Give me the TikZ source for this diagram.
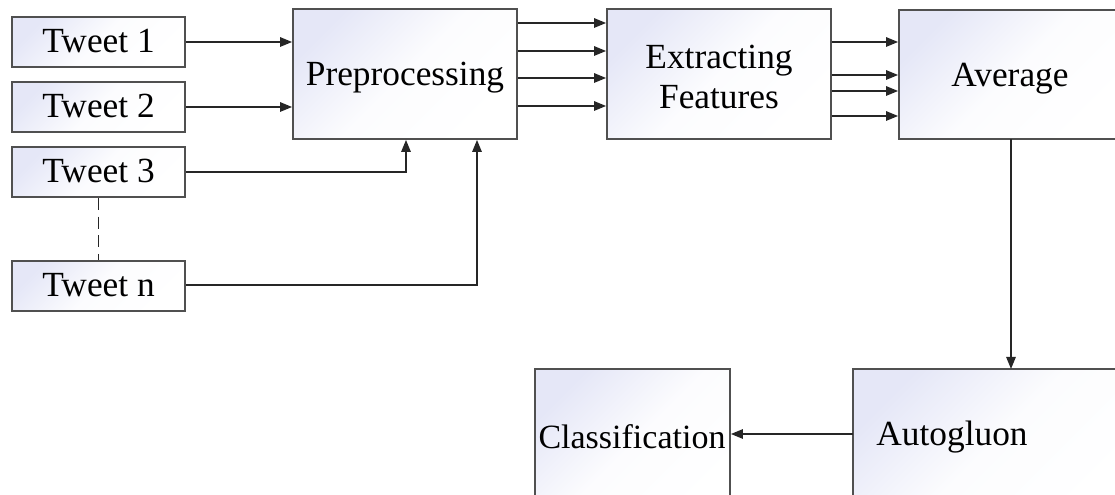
\documentclass[tikz,border=0pt]{standalone}
\usepackage{fontspec}
\setmainfont{Liberation Serif}
\usetikzlibrary{arrows.meta}
\definecolor{boxtop}{RGB}{229,231,247}
\definecolor{boxline}{RGB}{80,80,80}
\def\PX{0.75pt}
\begin{document}
\begin{tikzpicture}[x=0.75pt,y=-0.75pt,
  box/.style={draw=boxline, line width=1.3pt, top color=boxtop, bottom color=white, middle color=white!88!boxtop, shading angle=45, inner sep=0pt},
  lbl/.style={font=\fontsize{26.5pt}{30pt}\selectfont, align=center, inner sep=0pt},
  line/.style={line width=1.3pt, draw=black!85},
  arr/.style={line, -{Triangle[length=9pt,width=7pt]}}]
\useasboundingbox (0,0) rectangle (1115,495);
\clip (0,0) rectangle (1115,495);
% boxes
\node[box, minimum width=173*\PX, minimum height=50*\PX] (t1) at (98.5,42) {};
\node[box, minimum width=173*\PX, minimum height=50*\PX] (t2) at (98.5,107) {};
\node[box, minimum width=173*\PX, minimum height=50*\PX] (t3) at (98.5,172) {};
\node[box, minimum width=173*\PX, minimum height=50*\PX] (tn) at (98.5,286) {};
\node[box, minimum width=224*\PX, minimum height=130*\PX] (pre) at (405,74) {};
\node[box, minimum width=224*\PX, minimum height=130*\PX] (ext) at (719,74) {};
\node[box, minimum width=226*\PX, minimum height=129*\PX] (avg) at (1012,74.5) {};
\node[box, minimum width=277*\PX, minimum height=151*\PX] (auto) at (991.5,444.5) {};
\node[box, minimum width=195*\PX, minimum height=151*\PX] (cls) at (632.5,444.5) {};
% labels
\node[lbl] (t1l) at (98.5,41) {Tweet 1};
\node[lbl] (t2l) at (98.5,106) {Tweet 2};
\node[lbl] (t3l) at (98.5,171) {Tweet 3};
\node[lbl] (tnl) at (98.5,285) {Tweet n};
\node[lbl] (prel) at (405,78) {Preprocessing};
\node[lbl] (extl) at (719,77) {Extracting\\Features};
\node[lbl] (avgl) at (1010,79) {Average};
\node[lbl] (autol) at (952,437) {Autogluon};
\node[lbl, font=\fontsize{25.5pt}{30pt}\selectfont] (clsl) at (632,437) {Classification};
% connectors
\coordinate (c3) at (406,172);
\coordinate (cn) at (477,285);
\draw[arr] (t1.east) -- (pre.west |- t1.east);
\draw[arr] (t2.east) -- (pre.west |- t2.east);
\draw[arr] (t3.east) -- (c3) -- (c3 |- pre.south);
\draw[arr] (tn.east |- cn) -- (cn) -- (cn |- pre.south);
\draw[line, dashed, dash pattern=on 9pt off 5pt] (t3.south) -- (tn.north);
\foreach \y in {23,51,78,106}
  \draw[arr] (pre.east |- 0,\y) -- (ext.west |- 0,\y);
\foreach \y in {42,75,91,116}
  \draw[arr] (ext.east |- 0,\y) -- (avg.west |- 0,\y);
\draw[arr] (1011,139) -- (1011,369);
\coordinate (ca) at (853,434);
\draw[arr] (ca) -- (cls.east |- ca);
\end{tikzpicture}
\end{document}
